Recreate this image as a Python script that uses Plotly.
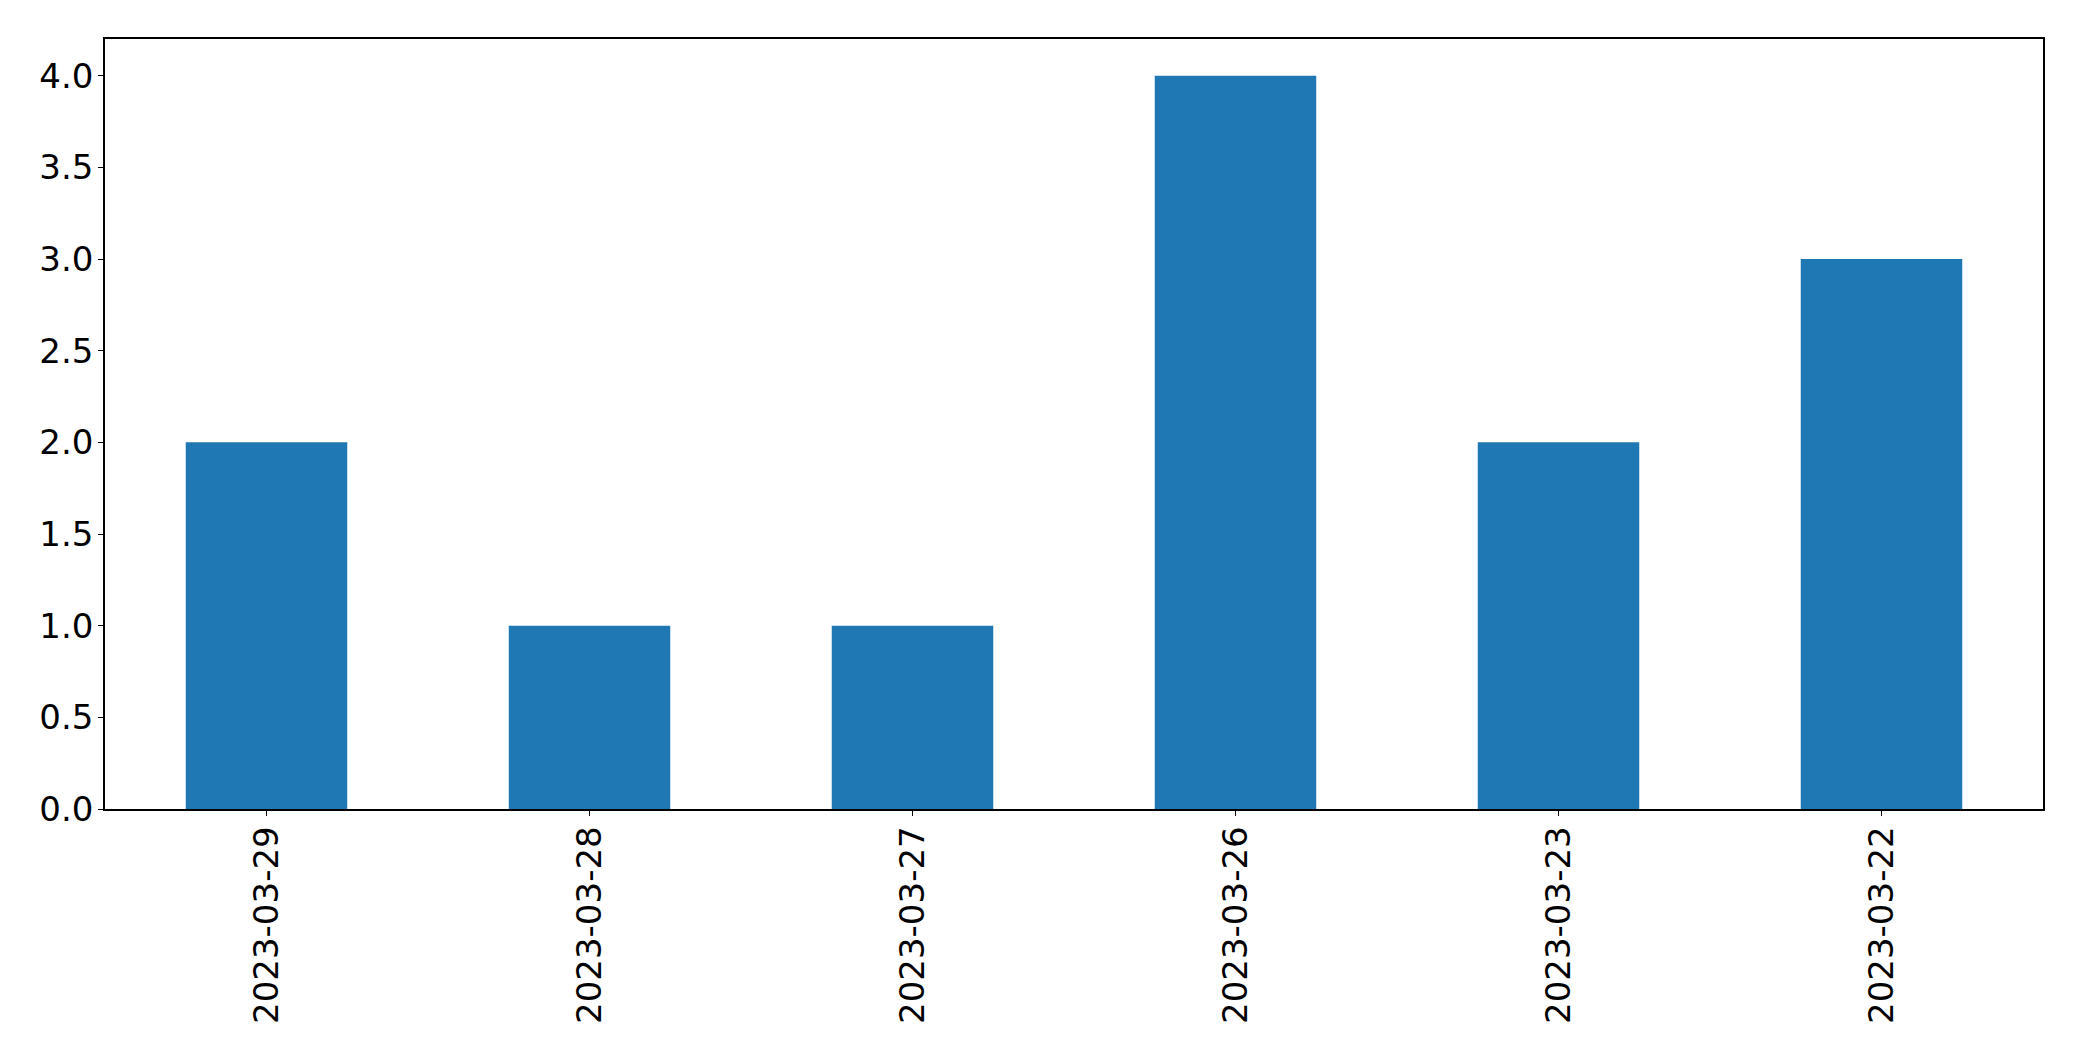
import plotly.graph_objects as go

categories = ["2023-03-29", "2023-03-28", "2023-03-27", "2023-03-26", "2023-03-23", "2023-03-22"]
values = [2, 1, 1, 4, 2, 3]
y_ticks = [0.0, 0.5, 1.0, 1.5, 2.0, 2.5, 3.0, 3.5, 4.0]

fig = go.Figure(go.Bar(x=categories, y=values, width=0.5, marker=dict(color="#1f77b4", line=dict(width=0))))

font = dict(family="DejaVu Sans", size=34, color="black")
fig.update_layout(
    width=2082, height=1061,
    margin=dict(l=105, r=39, t=39, b=252),
    paper_bgcolor="white", plot_bgcolor="white",
    showlegend=False,
    font=font,
)
fig.update_xaxes(
    type="category", range=[-0.5, 5.5],
    showline=True, linecolor="black", linewidth=1.5, mirror=True,
    ticks="outside", ticklen=5, tickwidth=1.2, tickcolor="black",
    tickangle=-90, tickfont=font, showgrid=False, zeroline=False,
    ticklabelstandoff=-3,
)
fig.update_yaxes(
    range=[0, 4.2], tickvals=y_ticks, ticktext=[f"{v:.1f}" for v in y_ticks],
    showline=True, linecolor="black", linewidth=1.5, mirror=True,
    ticks="outside", ticklen=5, tickwidth=1.2, tickcolor="black",
    tickfont=font, showgrid=False, zeroline=False,
    ticklabelstandoff=-2,
)
fig.write_html(
    "out.html",
    config={"displayModeBar": False},
    post_script="document.body.style.margin='0';document.body.style.padding='0';",
)
